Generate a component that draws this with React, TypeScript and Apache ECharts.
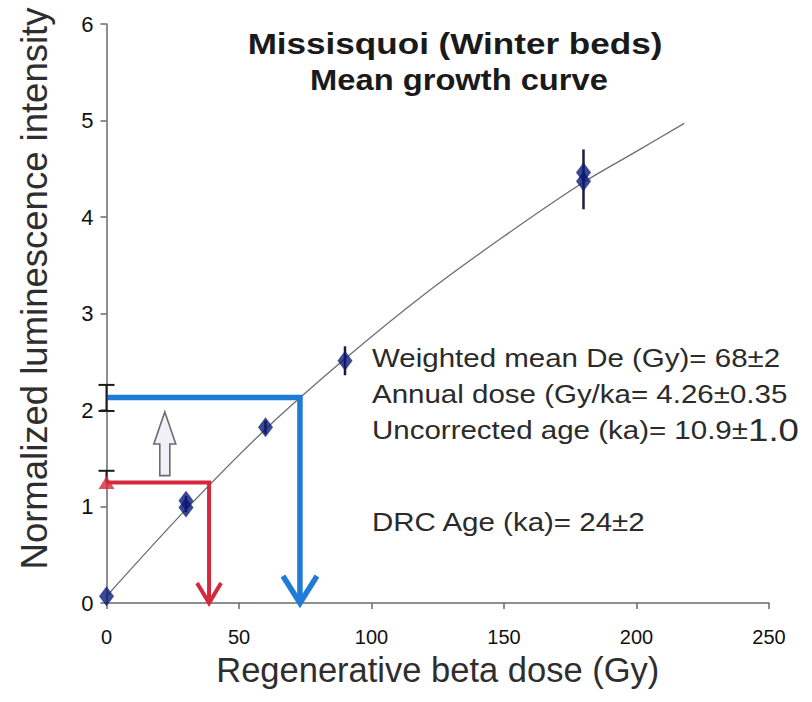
import React, { useEffect, useRef } from "react";
import * as echarts from "echarts";

// Measured points (regenerative dose, normalized luminescence)
const doses = [0, 30, 30, 60, 90, 180, 180];
const lum = [0.07, 0.99, 1.06, 1.82, 2.51, 4.37, 4.46];

// Error bars on measured points
const errDoses = [30, 60, 90, 180];
const errLow = [0.94, 1.75, 2.36, 4.08];
const errHigh = [1.11, 1.89, 2.66, 4.7];

// Fitted mean growth curve
const fitDose = [0, 30, 60, 90, 120, 150, 180, 200, 218];
const fitLum = [0.07, 0.97, 1.8, 2.53, 3.2, 3.8, 4.36, 4.68, 4.97];

// Guide lines (De projections)
const blueDose = 73;
const blueLum = 2.13;
const blueErrLow = 1.99;
const blueErrHigh = 2.26;
const redDose = 38.7;
const redLum = 1.25;
const redErrHigh = 1.37;

// Grey hollow arrow
const arrowDose = 22;
const arrowFrom = 1.32;
const arrowTo = 1.98;

// Tick settings
const xTicks = [0, 50, 100, 150, 200, 250];
const yTicks = [0, 1, 2, 3, 4, 5, 6];

const FONT = "'Liberation Sans', Arial, Helvetica, sans-serif";

export default function App() {
  const ref = useRef<HTMLDivElement>(null);

  useEffect(() => {
    if (!ref.current) return;
    const chart = echarts.init(ref.current, undefined, { renderer: "svg" });

    const guide = (color: string, width: number, hw: number, hh: number) =>
      (params: any, api: any) => {
        const de = api.value(0);
        const l = api.value(1);
        const a = api.coord([0, l]);
        const b = api.coord([de, l]);
        const c = api.coord([de, 0]);
        return {
          type: "group",
          children: [
            {
              type: "polyline",
              shape: { points: [a, b, c] },
              style: { stroke: color, lineWidth: width, fill: "none", lineJoin: "miter" },
            },
            {
              type: "polyline",
              shape: { points: [[c[0] - hw, c[1] - hh], [c[0], c[1]], [c[0] + hw, c[1] - hh]] },
              style: { stroke: color, lineWidth: width, fill: "none", lineJoin: "miter" },
            },
          ],
        };
      };

    const text = (t: string, x: number, y: number, sx: number, font: string, extra: any = {}) => ({
      type: "text",
      x,
      y,
      scaleX: sx,
      style: {
        text: t,
        x: 0,
        y: 0,
        textAlign: extra.align || "left",
        textVerticalAlign: "middle",
        font,
        fill: extra.fill || "#2b2b2b",
        rich: extra.rich,
      },
    });

    const option: any = {
      animation: false,
      backgroundColor: "#ffffff",
      grid: {
        left: 106.5,
        right: 43,
        top: 24,
        bottom: 99,
        containLabel: false,
        outerBoundsMode: "none",
      },
      xAxis: {
        type: "value",
        min: xTicks[0],
        max: xTicks[xTicks.length - 1],
        interval: 50,
        name: "Regenerative beta dose (Gy)",
        nameLocation: "middle",
        nameGap: 49,
        nameMoveOverlap: false,
        nameTextStyle: { fontSize: 34.5, color: "#2e2e2e", fontFamily: FONT },
        axisLine: { lineStyle: { color: "#6a6a6a", width: 1.5 } },
        axisTick: { show: true, length: 6, lineStyle: { color: "#6a6a6a", width: 1.5 } },
        axisLabel: { fontSize: 20, color: "#111111", margin: 24, fontFamily: FONT },
        splitLine: { show: false },
      },
      yAxis: {
        type: "value",
        min: yTicks[0],
        max: yTicks[yTicks.length - 1],
        interval: 1,
        name: "Normalized luminescence intensity",
        nameLocation: "middle",
        nameGap: 54,
        nameTextStyle: {
          fontSize: 36.5,
          color: "#2e2e2e",
          fontFamily: FONT,
          padding: [0, 0, 0, 50],
        },
        axisLine: { show: true, lineStyle: { color: "#6a6a6a", width: 1.5 } },
        axisTick: { show: true, length: 6, lineStyle: { color: "#6a6a6a", width: 1.5 } },
        axisLabel: { fontSize: 22, color: "#111111", margin: 13, fontFamily: FONT },
        splitLine: { show: false },
      },
      graphic: [
        text("Missisquoi (Winter beds)", 455, 43, 1.17, `bold 30px ${FONT}`, { align: "center", fill: "#1a1a1a" }),
        text("Mean growth curve", 459, 80, 1.09, `bold 30px ${FONT}`, { align: "center", fill: "#1a1a1a" }),
        text("Weighted mean De (Gy)= 68±2", 372, 358, 1.18, `25px ${FONT}`),
        text("Annual dose (Gy/ka= 4.26±0.35", 372, 394, 1.18, `25px ${FONT}`),
        text("Uncorrected age (ka)= 10.9±{b|1.0}", 372, 430, 1.18, `25px ${FONT}`, {
          rich: { b: { fontSize: 31, fontFamily: FONT, fill: "#2b2b2b" } },
        }),
        text("DRC Age (ka)= 24±2", 372, 522, 1.18, `25px ${FONT}`),
      ],
      series: [
        {
          name: "Fit",
          type: "line",
          data: fitDose.map((d, i) => [d, fitLum[i]]),
          smooth: 0.3,
          showSymbol: false,
          symbol: "none",
          lineStyle: { color: "#6e6e6e", width: 1.3 },
          z: 2,
        },
        {
          name: "Grey arrow",
          type: "custom",
          data: [[arrowDose, arrowFrom, arrowTo]],
          renderItem: (params: any, api: any) => {
            const b = api.coord([api.value(0), api.value(1)]);
            const t = api.coord([api.value(0), api.value(2)]);
            const sw = 5, hw = 11, hh = 32;
            return {
              type: "polygon",
              shape: {
                points: [
                  [b[0] - sw, b[1]],
                  [b[0] - sw, t[1] + hh],
                  [b[0] - hw, t[1] + hh],
                  [t[0], t[1]],
                  [b[0] + hw, t[1] + hh],
                  [b[0] + sw, t[1] + hh],
                  [b[0] + sw, b[1]],
                ],
              },
              style: { fill: "#f1eff8", stroke: "#6b6b6b", lineWidth: 1.6 },
            };
          },
          z: 3,
        },
        {
          name: "Blue guide",
          type: "custom",
          data: [[blueDose, blueLum]],
          renderItem: guide("#1f7bd6", 5.5, 17, 27),
          z: 4,
        },
        {
          name: "Red guide",
          type: "custom",
          data: [[redDose, redLum]],
          renderItem: guide("#d6283c", 4, 12, 20),
          z: 4,
        },
        {
          name: "Axis error bars",
          type: "custom",
          data: [
            [0, blueErrLow, blueErrHigh, 1],
            [0, redLum, redErrHigh, 0],
          ],
          renderItem: (params: any, api: any) => {
            const lo = api.coord([api.value(0), api.value(1)]);
            const hi = api.coord([api.value(0), api.value(2)]);
            const capLo = api.value(3) === 1;
            const cw = 8;
            const st = { stroke: "#1a1a1a", lineWidth: 2 };
            const children: any[] = [
              { type: "line", shape: { x1: lo[0], y1: lo[1], x2: hi[0], y2: hi[1] }, style: st },
              { type: "line", shape: { x1: hi[0] - cw, y1: hi[1], x2: hi[0] + cw, y2: hi[1] }, style: st },
            ];
            if (capLo) {
              children.push({ type: "line", shape: { x1: lo[0] - cw, y1: lo[1], x2: lo[0] + cw, y2: lo[1] }, style: st });
            }
            return { type: "group", children };
          },
          z: 5,
        },
        {
          name: "Red marker",
          type: "scatter",
          data: [[0, redLum]],
          symbol: "triangle",
          symbolSize: [16, 13],
          itemStyle: { color: "#d6283c" },
          z: 6,
        },
        {
          name: "Point error bars",
          type: "custom",
          data: errDoses.map((d, i) => [d, errLow[i], errHigh[i]]),
          renderItem: (params: any, api: any) => {
            const lo = api.coord([api.value(0), api.value(1)]);
            const hi = api.coord([api.value(0), api.value(2)]);
            return {
              type: "line",
              shape: { x1: lo[0], y1: lo[1], x2: hi[0], y2: hi[1] },
              style: { stroke: "#1b1b3a", lineWidth: 2.5 },
            };
          },
          z: 6,
        },
        {
          name: "Measured",
          type: "scatter",
          data: doses.map((d, i) => [d, lum[i]]),
          symbol: "diamond",
          symbolSize: [15, 20],
          itemStyle: { color: "#0c1a78" },
          z: 7,
        },
      ],
    };

    chart.setOption(option);
    return () => chart.dispose();
  }, []);

  return (
    <div
      ref={ref}
      style={{ position: "absolute", left: 0, top: 0, width: 812, height: 702, background: "#fff" }}
    />
  );
}
